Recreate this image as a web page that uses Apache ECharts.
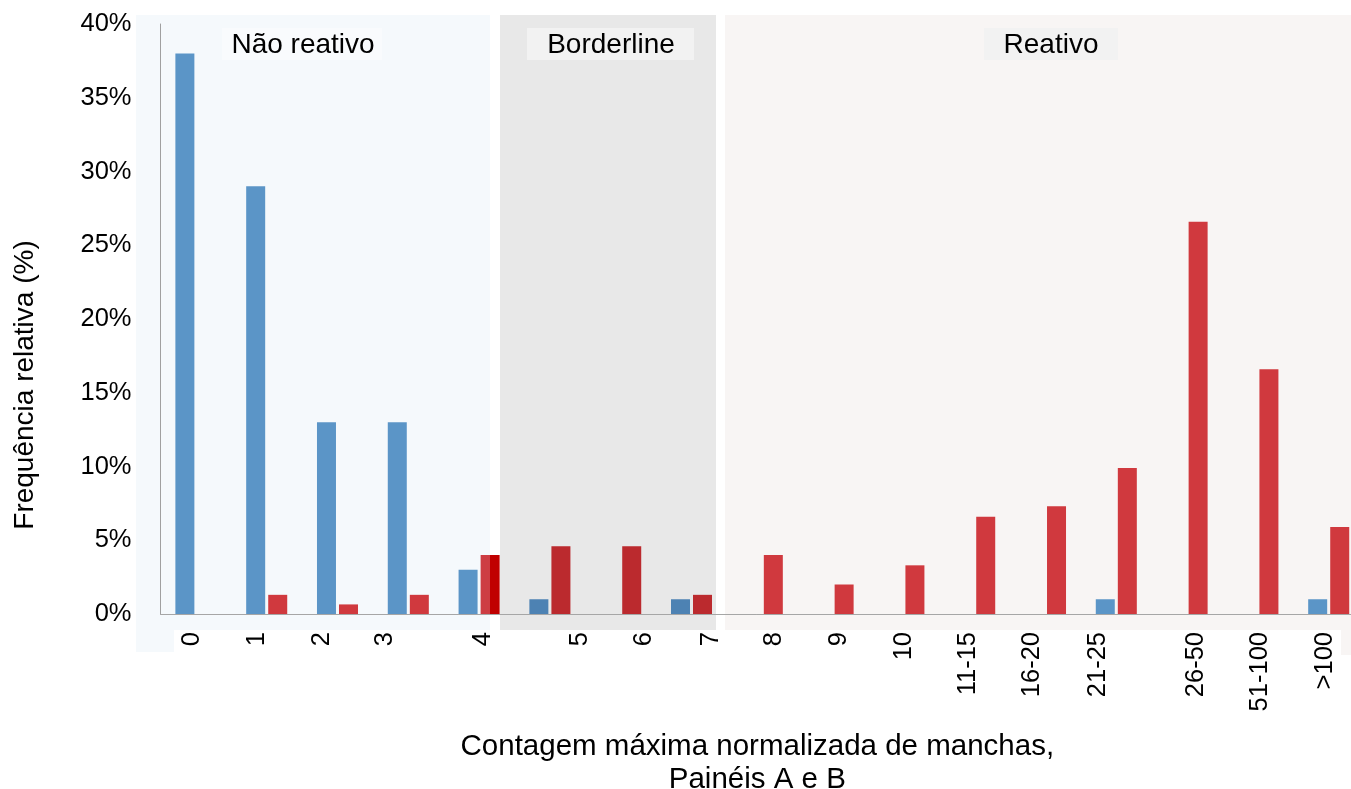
<!DOCTYPE html>
<html>
<head>
<meta charset="utf-8">
<script src="https://cdn.jsdelivr.net/npm/echarts@6/dist/echarts.min.js"></script>
<style>
html,body{margin:0;padding:0;background:#fff;}
#chart{width:1351px;height:789px;}
</style>
</head>
<body>
<div id="chart"></div>
<script>
// ---- data ----
const categories = ['0','1','2','3','4','5','6','7','8','9','10','11-15','16-20','21-25','26-50','51-100','>100'];
const blueValues = [38, 29, 13, 13, 3, 1, 0, 1, 0, 0, 0, 0, 0, 1, 0, 0, 1];
const redValues  = [0, 1.3, 0.65, 1.3, 4, 4.6, 4.6, 1.3, 4, 2, 3.3, 6.6, 7.3, 9.9, 26.6, 16.6, 5.9];
const regionNames = ['Não reativo', 'Borderline', 'Reativo'];
const borderlineIdx = [5, 6, 7];

// ---- layout (label positions along the category index scale, as drawn in the original) ----
const labelSpots = [-0.055, 0.863, 1.781, 2.671, 4.055, 5.425, 6.329, 7.275, 8.165, 9.083, 10.001, 10.905, 11.809, 12.742, 14.126, 15.03, 15.948];

const FONT = "'Liberation Sans', Arial, sans-serif";
const BLUE = '#5b95c7', BLUE_D = '#4d82b3';
const RED = '#d0393e', RED_D = '#bb2a2e';

const blueData = blueValues.map((v, i) => ({
  value: v,
  itemStyle: { color: borderlineIdx.includes(i) ? BLUE_D : BLUE }
}));
const redData = redValues.map((v, i) => {
  let color = borderlineIdx.includes(i) ? RED_D : RED;
  if (i === 4) {
    color = { type: 'linear', x: 0, y: 0, x2: 1, y2: 0, colorStops: [
      { offset: 0, color: '#cd3d43' }, { offset: 0.5, color: '#cd3d43' },
      { offset: 0.5, color: '#c00000' }, { offset: 1, color: '#c00000' }] };
  }
  return { value: v, itemStyle: { color } };
});

const chart = echarts.init(document.getElementById('chart'), null, { renderer: 'canvas' });

const option = {
  animation: false,
  backgroundColor: '#ffffff',
  textStyle: { fontFamily: FONT },
  grid: { left: 160.5, top: 24, width: 1203.6, bottom: 175, containLabel: false, outerBoundsMode: 'none' },
  graphic: [
    { type: 'rect', z: -10, shape: { x: 136, y: 15, width: 354, height: 615 }, style: { fill: '#f5f9fc' } },
    { type: 'rect', z: -10, shape: { x: 136, y: 630, width: 38, height: 22 }, style: { fill: '#f5f9fc' } },
    { type: 'rect', z: -10, shape: { x: 500, y: 15, width: 216, height: 615 }, style: { fill: '#e8e8e8' } },
    { type: 'rect', z: -10, shape: { x: 725, y: 15, width: 630, height: 615 }, style: { fill: '#f8f5f4' } },
    { type: 'rect', z: -10, shape: { x: 1341, y: 630, width: 14, height: 25 }, style: { fill: '#f8f5f4' } },
    { type: 'rect', z: -9, shape: { x: 222, y: 28, width: 160, height: 32 }, style: { fill: '#f9fbfd' } },
    { type: 'rect', z: -9, shape: { x: 527, y: 28, width: 167, height: 32 }, style: { fill: '#f2f2f2' } },
    { type: 'rect', z: -9, shape: { x: 984, y: 28, width: 134, height: 32 }, style: { fill: '#f2f2f2' } },
    { type: 'text', z: -8, x: 303, y: 45, style: { text: regionNames[0], font: '28px ' + FONT, fill: '#000', align: 'center', verticalAlign: 'middle' } },
    { type: 'text', z: -8, x: 611, y: 45, style: { text: regionNames[1], font: '28px ' + FONT, fill: '#000', align: 'center', verticalAlign: 'middle' } },
    { type: 'text', z: -8, x: 1051, y: 45, style: { text: regionNames[2], font: '28px ' + FONT, fill: '#000', align: 'center', verticalAlign: 'middle' } }
  ],
  xAxis: [
    {
      type: 'category',
      data: categories,
      axisLine: { show: true, lineStyle: { color: '#a6a6a6', width: 1 } },
      axisTick: { show: false },
      axisLabel: { show: false },
      splitLine: { show: false },
      name: 'Contagem máxima normalizada de manchas,\nPainéis A e B',
      nameLocation: 'middle',
      nameGap: 116,
      nameTextStyle: { fontSize: 29.5, color: '#000', fontFamily: FONT, lineHeight: 33, padding: [0, 10, 0, 0] }
    },
    {
      type: 'value',
      position: 'bottom',
      min: -0.5,
      max: 16.5,
      axisLine: { show: false },
      axisTick: { show: false },
      splitLine: { show: false },
      axisLabel: {
        show: true,
        customValues: labelSpots,
        rotate: 90,
        margin: 18,
        fontSize: 25.5,
        color: '#000',
        fontFamily: FONT,
        formatter: function (v) {
          for (let i = 0; i < labelSpots.length; i++) {
            if (Math.abs(labelSpots[i] - v) < 1e-6) return categories[i];
          }
          return '';
        }
      }
    }
  ],
  yAxis: {
    type: 'value',
    min: 0,
    max: 40,
    interval: 5,
    axisLine: { show: true, onZero: false, lineStyle: { color: '#a0a0a0', width: 1 } },
    axisTick: { show: false },
    splitLine: { show: false },
    axisLabel: { formatter: '{value}%', fontSize: 25.5, color: '#000', margin: 29, fontFamily: FONT },
    name: 'Frequência relativa (%)',
    nameLocation: 'middle',
    nameGap: 121,
    nameRotate: 90,
    nameTextStyle: { fontSize: 28, color: '#000', fontFamily: FONT, padding: [0, 132, 0, 0] }
  },
  series: [
    { type: 'bar', name: 'A', xAxisIndex: 0, data: blueData, barWidth: 19, barGap: '16%' },
    { type: 'bar', name: 'B', xAxisIndex: 0, data: redData, barWidth: 19, barGap: '16%' }
  ]
};
chart.setOption(option);
</script>
</body>
</html>
